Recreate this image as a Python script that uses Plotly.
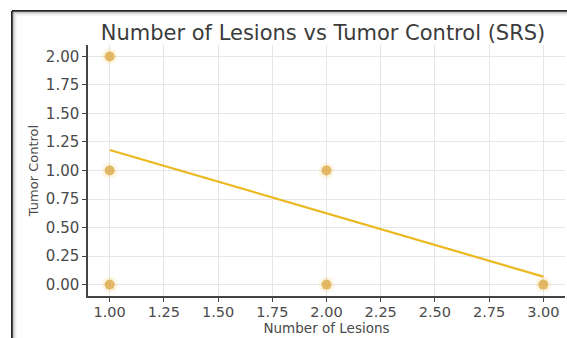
import plotly.graph_objects as go

# Data
lesions = [1, 1, 1, 2, 2, 3]
tumor_control = [2, 1, 0, 1, 0, 0]
fit_x = [1, 3]
fit_y = [1.18, 0.07]
x_ticks = [1.0, 1.25, 1.5, 1.75, 2.0, 2.25, 2.5, 2.75, 3.0]
y_ticks = [0.0, 0.25, 0.5, 0.75, 1.0, 1.25, 1.5, 1.75, 2.0]

FONT = "DejaVu Sans"
TXT = "#4a4a4a"

fig = go.Figure()
fig.add_trace(go.Scatter(
    x=lesions, y=tumor_control, mode="markers",
    marker=dict(size=16, color="rgba(245,190,70,0.14)", line=dict(width=0)),
    hoverinfo="skip", showlegend=False))
fig.add_trace(go.Scatter(
    x=lesions, y=tumor_control, mode="markers",
    marker=dict(size=10, color="rgba(220,170,70,0.8)", line=dict(width=0)),
    showlegend=False))
fig.add_trace(go.Scatter(
    x=fit_x, y=fit_y, mode="lines",
    line=dict(color="#ebb820", width=2.2), showlegend=False))

L, R, T, B = 88, 2, 45, 42
W, H = 567, 338
pw, ph = W - L - R, H - T - B

def px_x(p):
    return (p - L) / pw

def px_y(p):
    return (H - B - p) / ph

shapes = []
# frame with soft shadow
for i, c in enumerate(["#222222", "#888888", "#bbbbbb", "#dddddd", "#eeeeee"]):
    shapes.append(dict(type="line", xref="paper", yref="paper",
                       x0=px_x(12 + i), x1=px_x(12 + i), y0=px_y(11 + i), y1=px_y(340),
                       line=dict(color=c, width=1 if i else 2)))
    shapes.append(dict(type="line", xref="paper", yref="paper",
                       x0=px_x(12 + i), x1=px_x(570), y0=px_y(11 + i), y1=px_y(11 + i),
                       line=dict(color=c, width=1 if i else 2)))

fig.update_layout(
    width=W, height=H,
    margin=dict(l=L, r=R, t=T, b=B, autoexpand=False),
    paper_bgcolor="white", plot_bgcolor="white",
    font=dict(family=FONT, color=TXT, size=12),
    title=dict(text="Number of Lesions vs Tumor Control (SRS)",
               x=323 / W, xanchor="center", y=1 - 33 / H, yanchor="middle",
               font=dict(size=21, color="#3c3c3c", family=FONT)),
    shapes=shapes,
    xaxis=dict(range=[0.9, 3.1], tickvals=x_ticks, automargin=False,
               ticktext=[f"{v:.2f}" for v in x_ticks],
               showgrid=True, gridcolor="#e6e6e6", gridwidth=1,
               zeroline=False, showline=True, linecolor="#444444", linewidth=1.5,
               ticks="outside", ticklen=4, tickcolor="#444444",
               ticklabelstandoff=-2,
               tickfont=dict(size=14.5, color=TXT),
               title=dict(text="Number of Lesions", font=dict(size=13.5, color=TXT), standoff=4)),
    yaxis=dict(range=[-0.1, 2.1], tickvals=y_ticks, automargin=False,
               ticktext=[f"{v:.2f}" for v in y_ticks],
               showgrid=True, gridcolor="#e6e6e6", gridwidth=1,
               zeroline=False, showline=True, linecolor="#444444", linewidth=1.5,
               ticks="outside", ticklen=4, tickcolor="#444444",
               tickfont=dict(size=15, color=TXT),
               title=dict(text="Tumor Control", font=dict(size=13, color=TXT), standoff=4)),
)

fig.write_html("out.html", config={"displayModeBar": False},
               post_script="document.body.style.margin='0';document.body.style.overflow='hidden';")
